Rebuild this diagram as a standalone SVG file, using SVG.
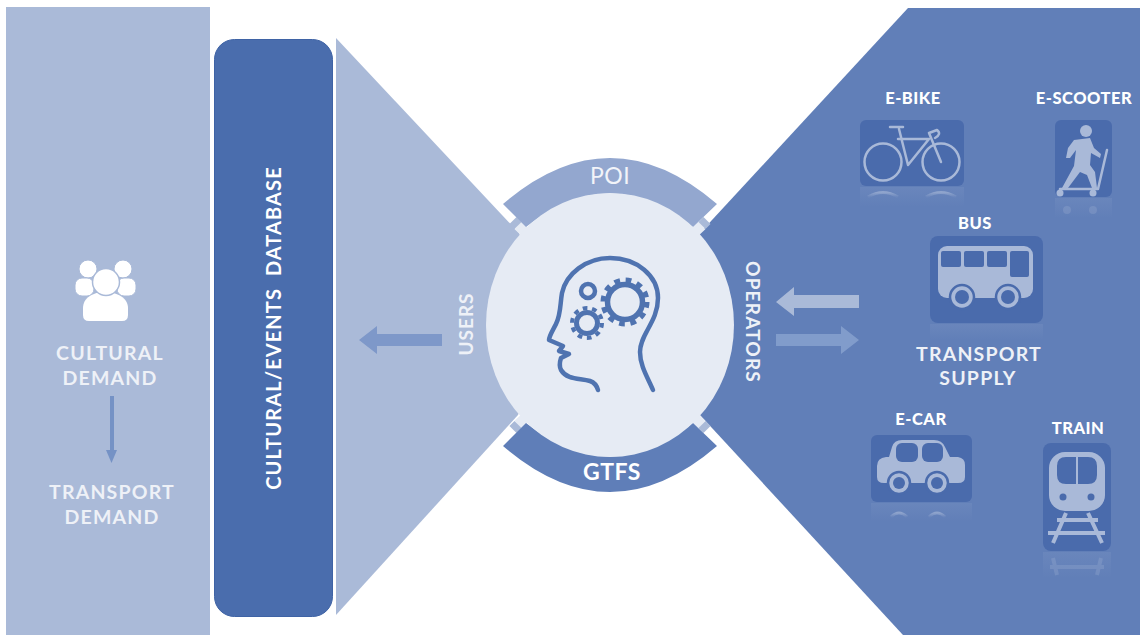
<svg xmlns="http://www.w3.org/2000/svg" width="1140" height="635" viewBox="0 0 1140 635">
<defs>
<style>
text{font-family:"Lato","Liberation Sans",sans-serif;fill:#fff}
.b{font-weight:900;font-size:16.5px;text-anchor:middle;letter-spacing:.5px}
.l{font-weight:700;font-size:19.5px;text-anchor:middle;letter-spacing:1.2px;fill:#eef1f7}
.tile{fill:#4a6bac}
.ic{fill:#a9b9d8}
.st{fill:none;stroke:#a9b9d8;stroke-linecap:round;stroke-linejoin:round}
.hd{fill:none;stroke:#4f73b0;stroke-width:4.5;stroke-linecap:round;stroke-linejoin:round}
.rf{fill:url(#fade)}
.rs{fill:none;stroke:url(#fade2);stroke-width:3}
</style>
<linearGradient id="fade" x1="0" y1="0" x2="0" y2="1"><stop offset="0" stop-color="#a9b9d8" stop-opacity=".12"/><stop offset="1" stop-color="#a9b9d8" stop-opacity="0"/></linearGradient>
<linearGradient id="fade2" gradientUnits="objectBoundingBox" x1="0" y1="0" x2="0" y2="1"><stop offset="0" stop-color="#a9b9d8" stop-opacity=".6"/><stop offset="1" stop-color="#a9b9d8" stop-opacity=".05"/></linearGradient>
</defs>
<rect width="1140" height="635" fill="#fff"/>
<g id="panel-demand">
<rect x="6" y="7" width="204" height="628" fill="#aabad8"/>
<g id="people" fill="#fff" stroke="#aabad8" stroke-width="1">
<circle cx="88" cy="269" r="9"/><circle cx="123" cy="269" r="9"/>
<rect x="75" y="278" width="19" height="18" rx="7"/><rect x="117" y="278" width="19" height="18" rx="7"/>
<path d="M83 315v-7c0-10 10-16 22-16 12 0 23 6 23 16v7q0 6-6 6h-33q-6 0-6-6z" stroke-width="0"/>
<circle cx="106" cy="282" r="13.500" stroke-width="1.500"/>
</g>
<text class="l" x="110" y="360">CULTURAL</text>
<text class="l" x="110" y="385">DEMAND</text>
<rect x="110" y="396" width="4" height="55" fill="#7592c5"/>
<path d="M106 450h11l-5.500 13z" fill="#7592c5"/>
<text class="l" x="112" y="499">TRANSPORT</text>
<text class="l" x="112" y="524">DEMAND</text>
</g>
<g id="users-wedge"><path d="M336 38L519 233L560 325L518 415L336 615z" fill="#aabad8"/></g>
<g id="database">
<rect x="214.500" y="39.500" width="118" height="577" rx="20" fill="#4a6dad" stroke="#3f63a5"/>
<text transform="translate(281 328) rotate(-90)" style="font-weight:700;font-size:20px;text-anchor:middle;letter-spacing:1.100px;white-space:pre">CULTURAL/EVENTS  DATABASE</text>
</g>
<g id="supply-wedge"><path d="M908 8H1140V635H903L700 415L660 325L700 233z" fill="#617fb8"/></g>
<g id="connectors">
<path d="M442 334H377V326L359 340L377 354V346H442z" fill="#7e98c9"/>
<path d="M859 295H794V287L776 302L794 316V308H859z" fill="#aabad8"/>
<path d="M776 334H841V326L859 340L841 354V346H776z" fill="#819ccb"/>
<path d="M518 225.500L525 232M702 225.500L695 232M518 424.500L525 418M702 424.500L695 418" stroke="#e6ebf4" stroke-width="10"/>
<path d="M513 220.500L518 225.500M707 220.500L702 225.500M513 429.500L518 424.500M707 429.500L702 424.500" stroke="#aabad8" stroke-width="10"/>
</g>
<g id="poi"><path d="M503 204Q610 112 717 204L693 227Q610 160 526 227z" fill="#93a7cf"/><text x="610" y="184" style="font-size:23px;text-anchor:middle;fill:#f2f4f9;letter-spacing:.5px">POI</text></g>
<g id="gtfs"><path d="M503 446Q610 538 717 446L693 423Q610 490 526 423z" fill="#5f7eb8"/><text x="612" y="480" style="font-weight:700;font-size:23px;text-anchor:middle;letter-spacing:.5px">GTFS</text></g>
<g id="engine">
<ellipse cx="610" cy="325" rx="124" ry="132" fill="#e6ebf4"/>
<path class="hd" d="M598 390Q596 383 590 381C580 378 567 380 561 370C559 366 560 361 561 358L569 354L559 351L563 346L549 340C549 336 553 330 556 324C561 314 560 304 562 293C566 274 586 258 610 258C637 258 658 276 658 298C658 322 640 334 640 352C640 366 648 378 653 390"/>
<circle cx="588" cy="291" r="7" fill="none" stroke="#4f73b0" stroke-width="4.500"/>
<circle cx="625" cy="302" r="17.500" fill="none" stroke="#4f73b0" stroke-width="5.500"/>
<circle cx="625" cy="302" r="22" fill="none" stroke="#4f73b0" stroke-width="5" stroke-dasharray="5.760 5.760"/>
<circle cx="587" cy="323" r="10.500" fill="none" stroke="#4f73b0" stroke-width="5"/>
<circle cx="587" cy="323" r="15" fill="none" stroke="#4f73b0" stroke-width="4" stroke-dasharray="4.710 4.710"/>
</g>
<text transform="translate(473 324) rotate(-90)" class="l" style="font-size:19px;letter-spacing:1px">USERS</text>
<text transform="translate(746 322) rotate(90)" class="l" style="font-size:19px;letter-spacing:1.200px">OPERATORS</text>
<g id="e-bike">
<text class="b" x="913" y="104">E-BIKE</text>
<rect class="tile" x="860" y="120" width="104" height="66" rx="6"/>
<rect class="rf" x="860" y="187" width="104" height="20"/>
<g class="st" stroke-width="2.500"><circle cx="883" cy="162" r="18.500"/><circle cx="941" cy="162" r="18.500"/><path d="M899 129L908 165L929 139H898M890 127H903M929 133L941 162M929 133L937 130Q942 134 935 138"/></g>
<path class="rs" d="M868 197Q883 188 898 197M926 197Q941 188 956 197"/>
</g>
<g id="e-scooter">
<text class="b" x="1084" y="104">E-SCOOTER</text>
<rect class="tile" x="1055" y="120" width="57" height="77" rx="6"/>
<rect class="rf" x="1055" y="198" width="57" height="20"/>
<circle class="ic" cx="1086" cy="131" r="6"/>
<path class="ic" d="M1074 140L1090 138L1094 148L1101 154L1100 158L1091 153L1090 165L1095 172L1097 188H1092L1087 175L1080 172L1068 188H1062L1074 166L1076 150L1070 158H1066L1068 148z"/>
<path class="st" stroke-width="2.500" d="M1060 189H1098L1107 150"/>
<circle class="ic" cx="1060" cy="193" r="3.500"/><circle class="ic" cx="1093" cy="193" r="3.500"/>
<circle cx="1067" cy="210" r="4" fill="#a9b9d8" opacity=".25"/><circle cx="1093" cy="210" r="4" fill="#a9b9d8" opacity=".25"/>
</g>
<g id="bus">
<text class="b" x="975" y="229">BUS</text>
<rect class="tile" x="930" y="236" width="113" height="87" rx="8"/>
<rect class="rf" x="930" y="324" width="113" height="16"/>
<rect class="ic" x="938" y="246" width="95" height="52" rx="9"/>
<g class="tile"><rect x="941" y="251" width="20" height="16" rx="2"/><rect x="964" y="251" width="20" height="16" rx="2"/><rect x="987" y="251" width="20" height="16" rx="2"/><rect x="1010" y="251" width="19" height="26" rx="2"/></g>
<g class="ic" stroke="#4a6bac" stroke-width="2.500"><circle cx="962" cy="297" r="12"/><circle cx="1008" cy="297" r="12"/></g>
<circle class="tile" cx="962" cy="297" r="7"/><circle class="tile" cx="1008" cy="297" r="7"/>
</g>
<g id="supply-label">
<text class="l" x="979" y="361">TRANSPORT</text>
<text class="l" x="978" y="385">SUPPLY</text>
</g>
<g id="e-car">
<text class="b" x="921" y="425">E-CAR</text>
<rect class="tile" x="871" y="435" width="101" height="67" rx="6"/>
<rect class="rf" x="871" y="503" width="101" height="18"/>
<path class="ic" d="M877 466Q877 458 886 457H889L892 447Q894 440 902 440H934Q942 440 945 447L950 457H958Q965 458 965 465V477Q965 483 958 483H884Q877 483 877 477z"/>
<g class="tile"><rect x="896" y="443" width="22" height="19" rx="6"/><rect x="922" y="443" width="21" height="19" rx="6"/></g>
<g class="ic" stroke="#4a6bac" stroke-width="2.500"><circle cx="899" cy="483" r="11"/><circle cx="937" cy="483" r="11"/></g>
<circle class="tile" cx="899" cy="483" r="6"/><circle class="tile" cx="937" cy="483" r="6"/>
<path class="rs" d="M891 517Q899 509 907 517M929 517Q937 509 945 517"/>
</g>
<g id="train">
<text class="b" x="1078" y="434">TRAIN</text>
<rect class="tile" x="1043" y="443" width="68" height="108" rx="8"/>
<rect class="rf" x="1043" y="552" width="68" height="26"/>
<rect class="ic" x="1049" y="452" width="56" height="59" rx="16"/>
<path class="tile" d="M1057 466Q1057 457 1066 457H1076V484H1066Q1057 484 1057 475zM1078 457H1088Q1097 457 1097 466V475Q1097 484 1088 484H1078z"/>
<circle class="tile" cx="1063" cy="497" r="3.500"/><circle class="tile" cx="1091" cy="497" r="3.500"/>
<path class="st" stroke-width="4" style="stroke-linecap:butt" d="M1066 513L1053 543M1088 513L1102 543M1057 520H1098M1048 533H1105"/>
<path class="st" stroke-width="4" opacity=".25" style="stroke-linecap:butt" d="M1053 558L1057 575M1101 558L1097 575M1050 567H1104"/>
</g>
</svg>
